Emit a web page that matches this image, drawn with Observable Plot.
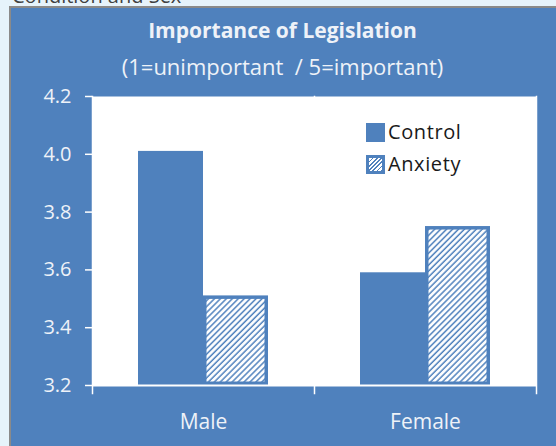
<!DOCTYPE html>
<html>
<head>
<meta charset="utf-8">
<script src="https://cdn.jsdelivr.net/npm/d3@7"></script>
<script src="https://cdn.jsdelivr.net/npm/@observablehq/plot@0.6"></script>
<style>
  html, body { margin: 0; padding: 0; }
  body { width: 556px; height: 446px; background: #e6f3fb; position: relative; overflow: hidden; font-family: "Open Sans", Lato, sans-serif; }
  #top { position: absolute; left: 12px; top: -14px; font-size: 20px; line-height: 20px; color: #404040; white-space: nowrap; }
  #panel { position: absolute; left: 9px; top: 6px; width: 547px; height: 440px; background: #4F81BD; border-left: 2px solid #8a8a8a; border-top: 2px solid #8a8a8a; box-sizing: border-box; }
  .ttl { position: absolute; left: 11px; width: 543px; text-align: center; color: #eef2f8; white-space: pre; }
  #chart { position: absolute; left: 0; top: 0; }
  .lg { position: absolute; left: 366px; font-size: 20px; line-height: 24px; color: #1a1a1a; display: flex; align-items: center; letter-spacing: 0.6px; }
  .sw { width: 19px; height: 19px; margin-right: 3px; box-sizing: border-box; flex: none; }
</style>
</head>
<body>
<div id="top">Condition and Sex</div>
<div id="panel"></div>
<div id="chart"></div>
<div class="ttl" style="top:16px;font-size:21px;line-height:28px;font-weight:bold;">Importance of Legislation</div>
<div class="ttl" style="top:51px;font-size:22px;line-height:30px;">(1=unimportant  / 5=important)</div>
<div class="lg" style="top:120px;"><div class="sw" style="background:#4F81BD;"></div>Control</div>
<div class="lg" style="top:152px;"><div class="sw" style="border:3px solid #4F81BD;background:repeating-linear-gradient(-45deg,#4F81BD 0 1.2px,#fff 1.2px 3px);"></div>Anxiety</div>
<script>
const sexes = ["Male", "Female"];
const conditions = ["Control", "Anxiety"];
const controlValues = [4.01, 3.59];
const anxietyValues = [3.51, 3.75];
const yTicks = [3.2, 3.4, 3.6, 3.8, 4.0, 4.2];
const yMin = 3.2, yMax = 4.2;

const controlData = sexes.map((s, i) => ({sex: s, condition: "Control", value: controlValues[i]}));
const anxietyData = sexes.map((s, i) => ({sex: s, condition: "Anxiety", value: anxietyValues[i]}));

const blue = "#4F81BD";
const light = "#eef2f8";

const svg = Plot.plot({
  width: 556,
  height: 446,
  marginLeft: 91,
  marginRight: 20,
  marginTop: 96,
  marginBottom: 61,
  style: {background: "transparent", fontFamily: "'Open Sans', Lato, sans-serif", fontSize: "20px", color: light, overflow: "visible"},
  fx: {domain: sexes, padding: 0, label: null},
  x: {domain: conditions, paddingInner: 0, paddingOuter: 0.69, axis: null},
  y: {domain: [yMin, yMax], label: null},
  marks: [
    Plot.frame({fill: "white", stroke: null}),
    Plot.barY(controlData, {fx: "sex", x: "condition", y1: yMin, y2: "value", fill: blue}),
    Plot.barY(anxietyData, {fx: "sex", x: "condition", y1: yMin, y2: "value", fill: "url(#hatch)", stroke: blue, strokeWidth: 3.5, inset: 1.75}),
    Plot.ruleY([yMin], {stroke: "white", strokeWidth: 2}),
    Plot.frame({anchor: "left", stroke: "white", strokeWidth: 1.5, insetBottom: -8}),
    Plot.frame({anchor: "right", facetAnchor: "right", stroke: "white", strokeWidth: 1.5, insetBottom: -8}),
    Plot.axisY({ticks: yTicks, tickFormat: d => d.toFixed(1), tickSize: 7, tickPadding: 14, stroke: "white", strokeWidth: 1.5, fill: light, fontSize: 20, label: null}),
    Plot.axisFx({anchor: "bottom", tickSize: 0, tickPadding: 29, fontSize: 21, fill: light, label: null, style: {letterSpacing: "0.5px"}})
  ]
});

const defs = d3.select(svg).insert("defs", ":first-child");
const pat = defs.append("pattern")
  .attr("id", "hatch")
  .attr("patternUnits", "userSpaceOnUse")
  .attr("width", 4.2).attr("height", 4.2)
  .attr("patternTransform", "rotate(45)");
pat.append("rect").attr("width", 4.2).attr("height", 4.2).attr("fill", "white");
pat.append("line").attr("x1", 1).attr("y1", 0).attr("x2", 1).attr("y2", 4.2).attr("stroke", blue).attr("stroke-width", 1.5);

document.getElementById("chart").appendChild(svg);
</script>
</body>
</html>
